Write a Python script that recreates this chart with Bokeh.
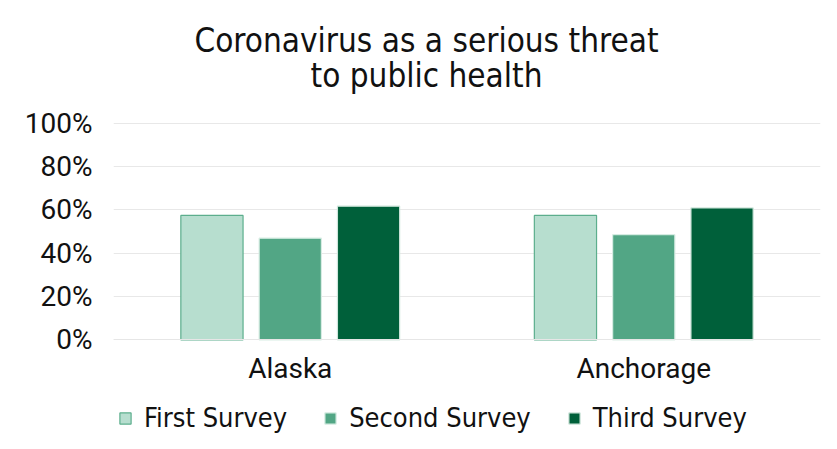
from bokeh.plotting import figure
from bokeh.models import (FactorRange, FixedTicker, NumeralTickFormatter, Legend,
                          LegendItem, Label, ColumnDataSource)
from bokeh.transform import dodge
from bokeh.embed import file_html
from bokeh.resources import INLINE

categories = ["Alaska", "Anchorage"]
series = ["First Survey", "Second Survey", "Third Survey"]
first_survey = [0.574, 0.574]
second_survey = [0.469, 0.485]
third_survey = [0.617, 0.609]
y_ticks = [0, 0.2, 0.4, 0.6, 0.8, 1.0]
title_lines = ["Coronavirus as a serious threat", "to public health"]

fills = ["#b7decf", "#52a685", "#00603a"]
lines = ["#5cae8d", "#d8ede4", "#cfe6dc"]
NARROW = "'DejaVu Sans Condensed', 'Liberation Sans Narrow', Roboto"

W, H = 837, 449
LEFT, RIGHT = 113, 17
ZERO_Y, FULL_Y = 339.3, 122.7          # pixel rows of 0% and 100%
px_per_unit = ZERO_Y - FULL_Y
y_lo = -(H - ZERO_Y) / px_per_unit
y_hi = ZERO_Y / px_per_unit

src = ColumnDataSource(dict(cat=categories, s1=first_survey, s2=second_survey, s3=third_survey))

p = figure(width=W, height=H, x_range=FactorRange(*categories), y_range=(y_lo, y_hi),
           output_backend="svg", toolbar_location=None,
           min_border_left=LEFT, min_border_right=RIGHT, min_border_top=0,
           min_border_bottom=0)
p.outline_line_color = None
p.background_fill_color = "white"
p.border_fill_color = "white"

offsets = [-0.2215, 0.0, 0.2215]
cols = ["s1", "s2", "s3"]
renderers = []
for off, col, fc, lc in zip(offsets, cols, fills, lines):
    r = p.vbar(x=dodge("cat", off, range=p.x_range), top=col, width=0.176, source=src,
               fill_color=fc, line_color=lc, line_width=1.2)
    renderers.append(r)

p.yaxis.ticker = FixedTicker(ticks=y_ticks)
p.yaxis.formatter = NumeralTickFormatter(format="0%")
p.yaxis.axis_line_color = None
p.yaxis.major_tick_line_color = None
p.yaxis.minor_tick_line_color = None
p.yaxis.major_label_text_font = "Roboto"
p.yaxis.major_label_text_font_size = "28px"
p.yaxis.major_label_text_color = "#111111"
p.yaxis.major_label_standoff = 15

p.xaxis.fixed_location = 0
p.xaxis.axis_line_color = "#e6e6e6"
p.xaxis.major_tick_line_color = None
p.xaxis.minor_tick_line_color = None
p.xaxis.major_label_text_font = "Roboto"
p.xaxis.major_label_text_font_size = "28px"
p.xaxis.major_label_text_color = "#111111"
p.xaxis.major_label_standoff = 6

p.xgrid.grid_line_color = None
p.ygrid.grid_line_color = "#e8e8e8"
p.ygrid.grid_line_width = 1

title_center_x = 426 - LEFT
for i, t in enumerate(title_lines):
    p.add_layout(Label(x=title_center_x, y=H - 40 - 35 * i, x_units="screen", y_units="screen",
                       text=t, text_align="center", text_baseline="middle",
                       text_font=NARROW, text_font_size="33px",
                       text_color="#111111"))

legend = Legend(items=[LegendItem(label=s, renderers=[r]) for s, r in zip(series, renderers)],
                orientation="horizontal", location=(5, 16),
                label_text_font=NARROW, label_text_font_size="27px",
                label_text_color="#111111", glyph_width=14, glyph_height=14,
                label_standoff=12, spacing=36, padding=0, margin=0,
                border_line_color=None, background_fill_alpha=0)
p.add_layout(legend, "center")

open("out.html", "w").write(file_html(p, INLINE))
